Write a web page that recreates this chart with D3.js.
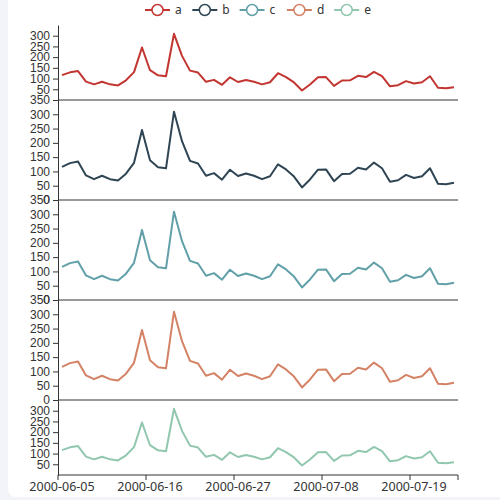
<!DOCTYPE html>
<html>
<head>
<meta charset="utf-8">
<script src="https://cdn.jsdelivr.net/npm/d3@7"></script>
<style>
  body { margin: 0; background: #f3f4fa; }
  svg { display: block; font-family: "Noto Sans", sans-serif; }
  .tick text { fill: #333; font-size: 12px; }
</style>
</head>
<body>
<svg id="chart" width="500" height="500"></svg>
<script>
// daily values, 2000-06-05 .. 2000-07-24
var dates = ["2000-06-05","2000-06-06","2000-06-07","2000-06-08","2000-06-09","2000-06-10",
  "2000-06-11","2000-06-12","2000-06-13","2000-06-14","2000-06-15","2000-06-16","2000-06-17",
  "2000-06-18","2000-06-19","2000-06-20","2000-06-21","2000-06-22","2000-06-23","2000-06-24",
  "2000-06-25","2000-06-26","2000-06-27","2000-06-28","2000-06-29","2000-06-30","2000-07-01",
  "2000-07-02","2000-07-03","2000-07-04","2000-07-05","2000-07-06","2000-07-07","2000-07-08",
  "2000-07-09","2000-07-10","2000-07-11","2000-07-12","2000-07-13","2000-07-14","2000-07-15",
  "2000-07-16","2000-07-17","2000-07-18","2000-07-19","2000-07-20","2000-07-21","2000-07-22",
  "2000-07-23","2000-07-24"];
var values = [116,129,135,86,73,85,73,68,92,130,245,139,115,111,309,206,137,128,85,94,
  71,106,84,93,85,73,83,125,107,82,44,72,106,107,66,91,92,113,107,131,111,64,69,88,77,83,
  111,57,55,60];

var seriesNames = ["a", "b", "c", "d", "e"];
var seriesColors = ["#c23531", "#2f4554", "#61a0a8", "#d48265", "#91c7ae"];

// tick labels shown on the y axes
var yTicksEdge = [50, 100, 150, 200, 250, 300];
var yTicksMid = [0, 50, 100, 150, 200, 250, 300, 350];
var xLabelDates = ["2000-06-05", "2000-06-16", "2000-06-27", "2000-07-08", "2000-07-19"];

var svg = d3.select("#chart");
var left = 58, right = 458;
var panelTop = [25, 100, 200, 300, 400],
    panelBottom = [100, 200, 300, 400, 475];

// white card
svg.append("rect")
    .attr("x", 8).attr("y", -10)
    .attr("width", 510).attr("height", 507)
    .attr("rx", 8)
    .attr("fill", "#fff");

var x = d3.scaleBand()
    .domain(dates)
    .range([left, right]);

var line = d3.line()
    .x(function(d, i) { return x(dates[i]) + x.bandwidth() / 2; })
    .y(function(d) { return d; });

seriesNames.forEach(function(name, k) {
  var y = d3.scaleLinear()
      .domain([0, 350])
      .range([panelBottom[k], panelTop[k]]);

  var g = svg.append("g").attr("class", "panel");

  // y axis
  var ticks = (k == 0 || k == 4) ? yTicksEdge : yTicksMid;
  g.append("g")
      .attr("transform", "translate(" + left + ",0)")
      .call(d3.axisLeft(y).tickValues(ticks).tickSize(5).tickPadding(3).tickSizeOuter(0))
      .call(function(a) {
        a.select(".domain").attr("stroke", "#333");
        a.selectAll(".tick line").attr("stroke", "#333");
      });

  // x axis line
  var xa = g.append("g")
      .attr("transform", "translate(0," + panelBottom[k] + ")");
  xa.append("line")
      .attr("x1", left).attr("x2", right)
      .attr("stroke", "#333");
  if (k == 4) {
    var tickIdx = dates.filter(function(d, i) { return i % 11 == 0; });
    xa.selectAll(".xt")
        .data(tickIdx.map(function(d) { return x(d); }).concat([right]))
      .enter().append("line")
        .attr("class", "xt")
        .attr("x1", function(d) { return d; })
        .attr("x2", function(d) { return d; })
        .attr("y1", 0).attr("y2", 5)
        .attr("stroke", "#333");
    xa.selectAll(".xl")
        .data(xLabelDates)
      .enter().append("text")
        .attr("class", "xl")
        .attr("x", function(d) { return x(d) + x.bandwidth() / 2; })
        .attr("y", 16)
        .attr("text-anchor", "middle")
        .attr("fill", "#333")
        .style("font-size", "12.5px")
        .text(function(d) { return d; });
  }

  g.append("path")
      .datum(values.map(function(v) { return y(v); }))
      .attr("fill", "none")
      .attr("stroke", seriesColors[k])
      .attr("stroke-width", 2)
      .attr("stroke-linejoin", "round")
      .attr("d", line);
});

// legend
var legend = svg.append("g").attr("class", "legend");
var item = legend.selectAll(".item")
    .data(seriesNames)
  .enter().append("g")
    .attr("class", "item")
    .attr("transform", function(d, i) { return "translate(" + (145 + i * 47.3) + ",10)"; });

item.append("line")
    .attr("x1", 0).attr("x2", 25)
    .attr("stroke", function(d, i) { return seriesColors[i]; })
    .attr("stroke-width", 2);
item.append("circle")
    .attr("cx", 12.5).attr("r", 5.5)
    .attr("fill", "#fff")
    .attr("stroke", function(d, i) { return seriesColors[i]; })
    .attr("stroke-width", 1.5);
item.append("text")
    .attr("x", 30).attr("dy", "0.35em")
    .attr("fill", "#333")
    .style("font-size", "12px")
    .text(function(d) { return d; });
</script>
</body>
</html>
